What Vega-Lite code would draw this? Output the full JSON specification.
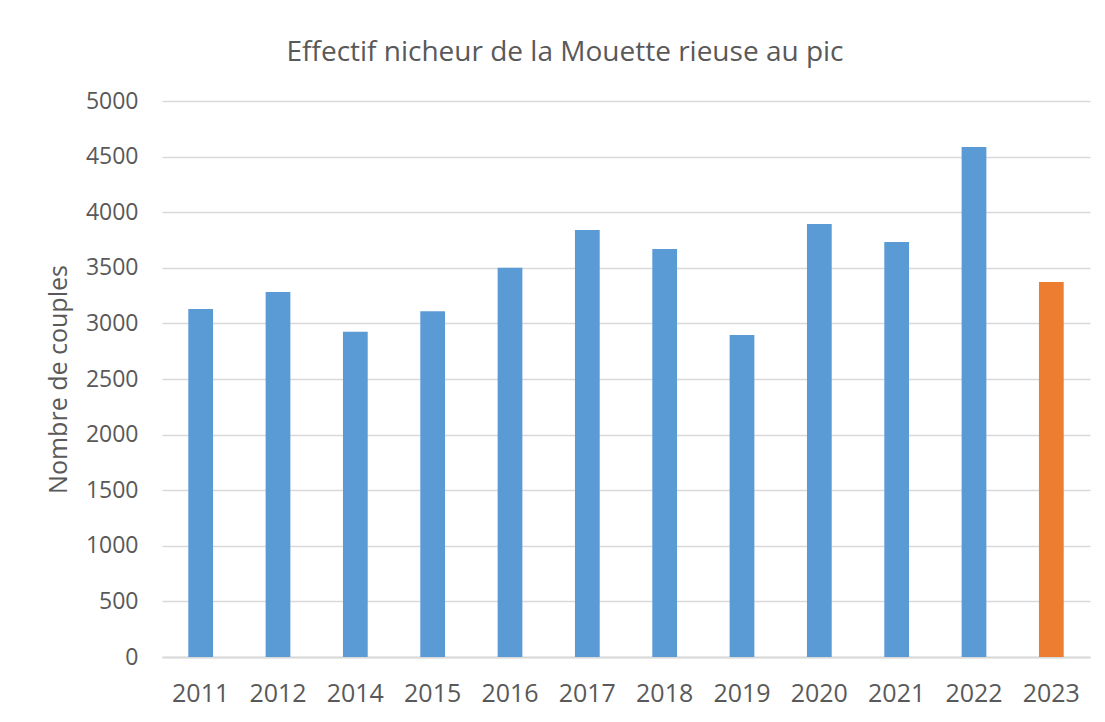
{
  "$schema": "https://vega.github.io/schema/vega-lite/v6.json",
  "autosize": {"type": "none"},
  "width": 928,
  "height": 556,
  "padding": {"left": 162, "top": 101, "right": 15, "bottom": 65},
  "background": "white",
  "config": {
    "font": "Open Sans",
    "view": {"stroke": null}
  },
  "title": {
    "text": "Effectif nicheur de la Mouette rieuse au pic",
    "fontSize": 28,
    "fontWeight": "normal",
    "color": "#595959",
    "anchor": "middle",
    "frame": "group",
    "dx": -61,
    "offset": 23
  },
  "data": {
    "values": [
      {"annee": "2011", "couples": 3130, "groupe": "passe"},
      {"annee": "2012", "couples": 3282, "groupe": "passe"},
      {"annee": "2014", "couples": 2925, "groupe": "passe"},
      {"annee": "2015", "couples": 3110, "groupe": "passe"},
      {"annee": "2016", "couples": 3500, "groupe": "passe"},
      {"annee": "2017", "couples": 3840, "groupe": "passe"},
      {"annee": "2018", "couples": 3668, "groupe": "passe"},
      {"annee": "2019", "couples": 2895, "groupe": "passe"},
      {"annee": "2020", "couples": 3895, "groupe": "passe"},
      {"annee": "2021", "couples": 3732, "groupe": "passe"},
      {"annee": "2022", "couples": 4586, "groupe": "passe"},
      {"annee": "2023", "couples": 3372, "groupe": "actuel"}
    ]
  },
  "mark": {"type": "bar"},
  "encoding": {
    "x": {
      "field": "annee",
      "type": "nominal",
      "sort": null,
      "scale": {"paddingInner": 0.68, "paddingOuter": 0.34},
      "axis": {
        "title": null,
        "labelAngle": 0,
        "labelFontSize": 25,
        "labelColor": "#595959",
        "labelPadding": 24,
        "ticks": false,
        "domainColor": "#d9d9d9",
        "domainWidth": 2,
        "grid": false
      }
    },
    "y": {
      "field": "couples",
      "type": "quantitative",
      "scale": {"domain": [0, 5000]},
      "axis": {
        "title": "Nombre de couples",
        "titleFontSize": 25,
        "titleFontWeight": "normal",
        "titleColor": "#595959",
        "titlePadding": 14,
        "format": "d",
        "values": [0, 500, 1000, 1500, 2000, 2500, 3000, 3500, 4000, 4500, 5000],
        "labelFontSize": 23,
        "labelColor": "#595959",
        "labelPadding": 24,
        "ticks": false,
        "domain": false,
        "grid": true,
        "gridColor": "#d9d9d9",
        "gridWidth": 1.5
      }
    },
    "color": {
      "field": "groupe",
      "type": "nominal",
      "scale": {"domain": ["passe", "actuel"], "range": ["#5B9BD5", "#ED7D31"]},
      "legend": null
    }
  }
}
